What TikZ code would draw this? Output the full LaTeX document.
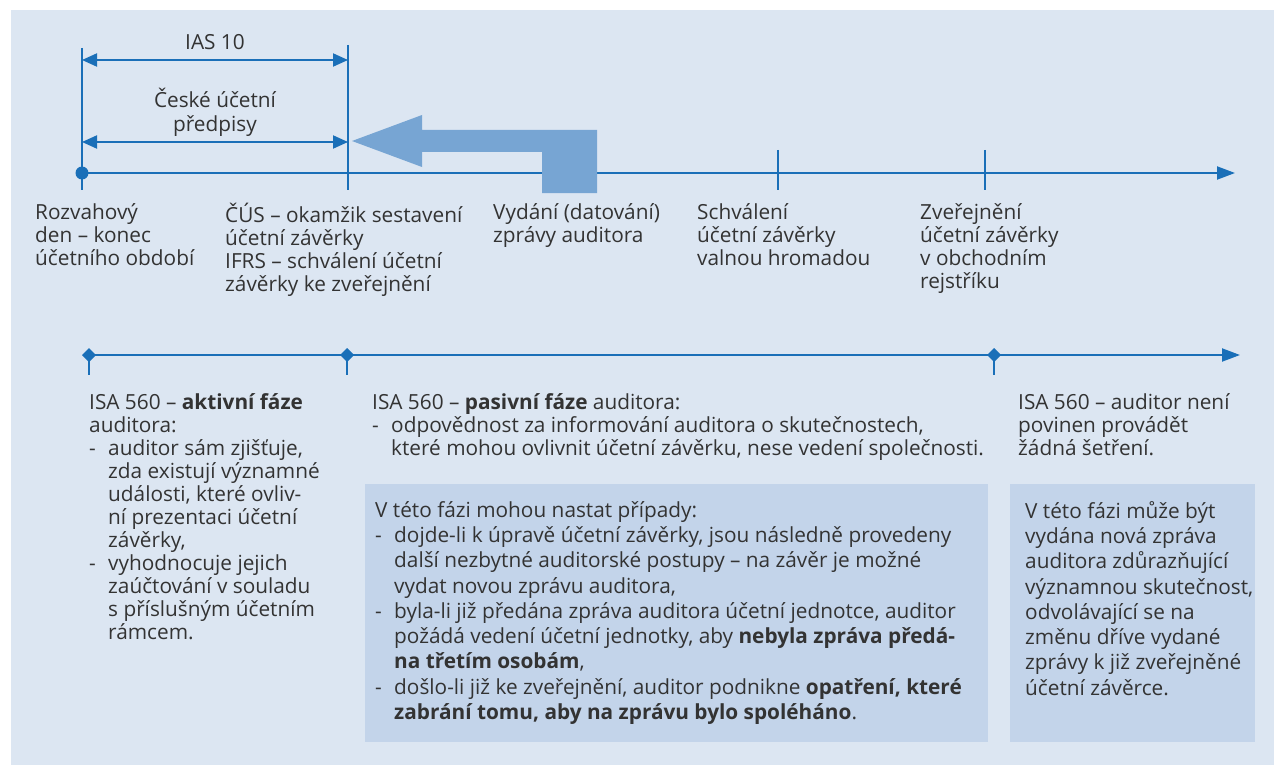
\documentclass[tikz,border=0pt]{standalone}
\usepackage{fontspec}
\setmainfont{Open Sans}
\usetikzlibrary{arrows.meta}
\definecolor{bg}{HTML}{DCE6F2}
\definecolor{boxc}{HTML}{C3D4EA}
\definecolor{lineb}{HTML}{1A6FB8}
\definecolor{bigarr}{HTML}{77A5D3}
\definecolor{txt}{HTML}{333333}
\newcommand{\hd}{\makebox[19pt][l]{-}}
\newcommand{\hi}{\hspace*{19pt}}
\begin{document}
\begin{tikzpicture}[x=1pt,y=-1pt,
 lbl/.style={anchor=north west, inner sep=0pt, align=left, text=txt, font=\fontsize{20.8}{23}\selectfont},
 boxlbl/.style={lbl, font=\fontsize{20.8}{25.3}\selectfont},
 clbl/.style={anchor=center, inner sep=0pt, align=center, text=txt, font=\fontsize{20.8}{24}\selectfont},
 tl/.style={draw=lineb, line width=2pt},
 tickl/.style={draw=lineb, line width=1.3pt},
 dim/.style={draw=lineb, line width=2pt, {Triangle[length=15pt,width=13pt]}-{Triangle[length=15pt,width=13pt]}},
 endarrow/.style={-{Triangle[length=18pt,width=13pt]}},
 panel/.style={fill=boxc},
 ]
\useasboundingbox (0,0) rectangle (1274,765);
\fill[bg] (11,10) rectangle (1274,765);

% top timeline
\coordinate (t0) at (82,173);
\coordinate (t1) at (1235,173);
\draw[tl,endarrow] (t0) -- (t1);
\fill[lineb] (t0) circle (6.5);
\coordinate (a1) at (82,48);   \coordinate (a2) at (82,190);
\coordinate (b1) at (348,45);  \coordinate (b2) at (348,190);
\coordinate (c1) at (778,150); \coordinate (c2) at (778,190);
\coordinate (d1) at (985,150); \coordinate (d2) at (985,190);
\draw[tickl] (a1) -- (a2);
\draw[tickl] (b1) -- (b2);
\draw[tickl] (c1) -- (c2);
\draw[tickl] (d1) -- (d2);

% dimension arrows
\coordinate (ias0) at (82,60);  \coordinate (ias1) at (348,60);
\coordinate (cz0) at (82,142);  \coordinate (cz1) at (348,142);
\draw[dim] (ias0) -- (ias1);
\draw[dim] (cz0) -- (cz1);
\node[clbl] (ias) at (215,42) {IAS 10};
\node[clbl] (cz) at (215,112) {České účetní\\předpisy};

% big arrow
\fill[bigarr] (352,141) -- (422,115) -- (422,130) -- (597,130) -- (597,193) -- (542,193) -- (542,152) -- (422,152) -- (422,167) -- cycle;

% top labels
\node[lbl] (l1) at (35,203) {Rozvahový\\den – konec\\účetního období};
\node[lbl] (l2) at (225,203) {ČÚS – okamžik sestavení\\účetní závěrky\\IFRS – schválení účetní\\závěrky ke zveřejnění};
\node[lbl] (l3) at (493,203) {Vydání (datování)\\zprávy auditora};
\node[lbl] (l4) at (697,203) {Schválení\\účetní závěrky\\valnou hromadou};
\node[lbl] (l5) at (920,203) {Zveřejnění\\účetní závěrky\\v obchodním\\rejstříku};

% bottom timeline
\coordinate (s0) at (89,355);
\coordinate (s1) at (1240,355);
\draw[tl,endarrow] (s0) -- (s1);
\foreach \x in {89,347,994}{
  \fill[lineb] (\x-7,355) -- (\x,348) -- (\x+7,355) -- (\x,362) -- cycle;
  \draw[tickl] (\x,355) -- (\x,375);
}

% boxes
\fill[panel] (365,484) rectangle (988,742);
\fill[panel] (1010,484) rectangle (1255,742);

% bottom texts
\node[lbl] (p1) at (89,393) {ISA 560 – \textbf{aktivní fáze}\\auditora:\\
\hd auditor sám zjišťuje,\\\hi zda existují významné\\\hi události, které ovliv-\\\hi ní prezentaci účetní\\\hi závěrky,\\
\hd vyhodnocuje jejich\\\hi zaúčtování v souladu\\\hi s příslušným účetním\\\hi rámcem.};
\node[lbl] (p2) at (372,393) {ISA 560 – \textbf{pasivní fáze} auditora:\\
\hd odpovědnost za informování auditora o skutečnostech,\\\hi které mohou ovlivnit účetní závěrku, nese vedení společnosti.};
\node[lbl] (p3) at (1018,393) {ISA 560 – auditor není\\povinen provádět\\žádná šetření.};

\node[boxlbl] (b1t) at (375,501) {V této fázi mohou nastat případy:\\
\hd dojde-li k úpravě účetní závěrky, jsou následně provedeny\\\hi další nezbytné auditorské postupy – na závěr je možné\\\hi vydat novou zprávu auditora,\\
\hd byla-li již předána zpráva auditora účetní jednotce, auditor\\\hi požádá vedení účetní jednotky, aby \textbf{nebyla zpráva předá-}\\\hi \textbf{na třetím osobám},\\
\hd došlo-li již ke zveřejnění, auditor podnikne \textbf{opatření, které}\\\hi \textbf{zabrání tomu, aby na zprávu bylo spoléháno}.};
\node[boxlbl] (b2t) at (1025,501) {V této fázi může být\\vydána nová zpráva\\auditora zdůrazňující\\významnou skutečnost,\\odvolávající se na\\změnu dříve vydané\\zprávy k již zveřejněné\\účetní závěrce.};
\end{tikzpicture}
\end{document}
